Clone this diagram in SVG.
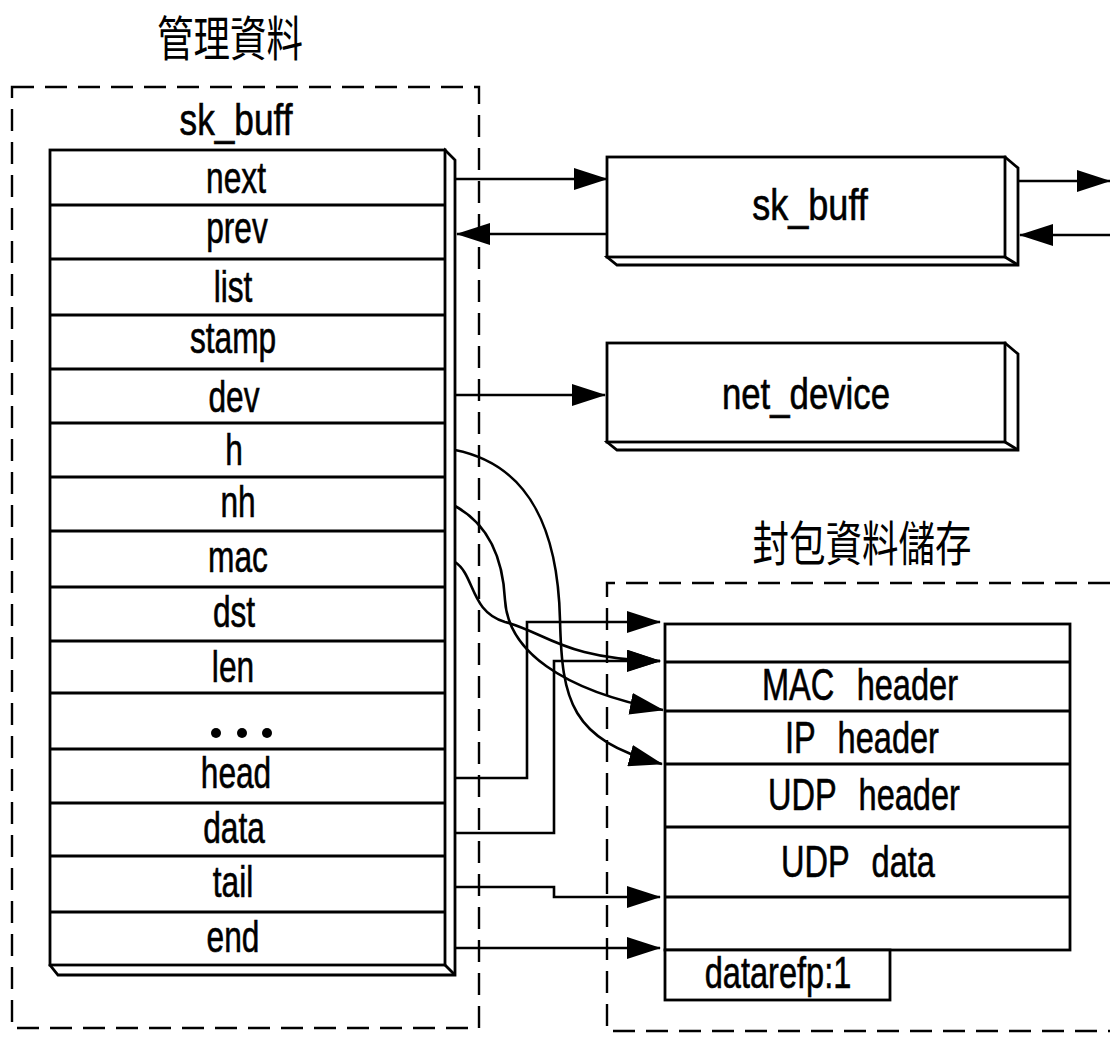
<svg xmlns="http://www.w3.org/2000/svg" width="1110" height="1043" viewBox="0 0 1110 1043">
  <style>
    .bg { fill: #ffffff; }
    .box { fill: #ffffff; stroke: #000; stroke-width: 2.8; stroke-linejoin: miter; }
    .ln { fill: none; stroke: #000; stroke-width: 2.8; }
    .dash { fill: none; stroke: #000; stroke-width: 2.4; stroke-dasharray: 22 11; }
    .wire { fill: none; stroke: #000; stroke-width: 2.6; marker-end: url(#ah); }
    .lbl { font-family: "Liberation Sans", Arial, sans-serif; font-size: 44px; text-anchor: middle; fill: #000; stroke: #000; stroke-width: 0.6; }
    .cjk { font-family: "Noto Sans CJK TC", "Noto Sans CJK SC", sans-serif; font-size: 48px; text-anchor: middle; fill: #000; }
  </style>
  <defs>
    <marker id="ah" markerUnits="userSpaceOnUse" viewBox="0 0 34 22" markerWidth="34" markerHeight="22" refX="33" refY="11" orient="auto">
      <path d="M0,0 L34,11 L0,22 z" fill="#000"/>
    </marker>
  </defs>

  <rect class="bg" x="0" y="0" width="1110" height="1043"/>

  <!-- management data group -->
  <g id="mgmt-area">
    <text class="cjk" transform="translate(230,56) scale(0.76,1)">管理資料</text>
    <rect class="dash" x="12" y="87" width="467" height="941"/>
    <text class="lbl" transform="translate(236,135) scale(0.8,1)">sk_buff</text>
  </g>

  <!-- sk_buff field table -->
  <g id="skb-table">
    <path class="box" d="M445,150 L455,160 L455,975 L58,975 L50,965 Z"/>
    <rect class="box" x="50" y="150" width="395" height="815"/>
    <path class="ln" d="M445,965 L455,975"/>
    <path class="ln" d="M50,205 H445 M50,259 H445 M50,315 H445 M50,369 H445 M50,423 H445 M50,477 H445 M50,531 H445 M50,587 H445 M50,641 H445 M50,693 H445 M50,749 H445 M50,803 H445 M50,856 H445 M50,912 H445"/>
    <g class="lbl">
      <text transform="translate(236,193) scale(0.72,1)">next</text>
      <text transform="translate(237,243) scale(0.72,1)">prev</text>
      <text transform="translate(233,302) scale(0.72,1)">list</text>
      <text transform="translate(233,353) scale(0.72,1)">stamp</text>
      <text transform="translate(234,412) scale(0.72,1)">dev</text>
      <text transform="translate(234,465) scale(0.72,1)">h</text>
      <text transform="translate(238,517) scale(0.72,1)">nh</text>
      <text transform="translate(238,572) scale(0.72,1)">mac</text>
      <text transform="translate(234,627) scale(0.72,1)">dst</text>
      <text transform="translate(233,682) scale(0.72,1)">len</text>
      <text transform="translate(236,788) scale(0.72,1)">head</text>
      <text transform="translate(234,843) scale(0.72,1)">data</text>
      <text transform="translate(233,897) scale(0.72,1)">tail</text>
      <text transform="translate(233,952) scale(0.72,1)">end</text>
    </g>
    <circle cx="216" cy="733" r="5"/>
    <circle cx="242" cy="733" r="5"/>
    <circle cx="267" cy="733" r="5"/>
  </g>

  <!-- neighbouring sk_buff -->
  <g id="skb-next">
    <path class="box" d="M1005,157 L1018,168 L1018,265 L617,265 L607,257 Z"/>
    <rect class="box" x="607" y="157" width="398" height="100"/>
    <path class="ln" d="M1005,257 L1018,265"/>
    <text class="lbl" transform="translate(810,220) scale(0.82,1)">sk_buff</text>
  </g>

  <!-- net_device -->
  <g id="net-device">
    <path class="box" d="M1005,343 L1018,354 L1018,450 L617,450 L607,442 Z"/>
    <rect class="box" x="607" y="343" width="398" height="99"/>
    <path class="ln" d="M1005,442 L1018,450"/>
    <text class="lbl" transform="translate(806,409) scale(0.79,1)">net_device</text>
  </g>

  <!-- packet data storage -->
  <g id="pkt-area">
    <text class="cjk" transform="translate(862,561) scale(0.76,1)">封包資料儲存</text>
    <path class="dash" d="M1110,583 H607 V1031 H1110"/>
  </g>

  <g id="pkt-table">
    <rect class="box" x="665" y="624" width="405" height="326"/>
    <path class="ln" d="M665,662 H1070 M665,711 H1070 M665,764 H1070 M665,827 H1070 M665,897 H1070"/>
    <g class="lbl" style="word-spacing:18px">
      <text transform="translate(860,700) scale(0.74,1)">MAC header</text>
      <text transform="translate(862,753) scale(0.74,1)">IP header</text>
      <text transform="translate(864,810) scale(0.74,1)">UDP header</text>
      <text transform="translate(858,877) scale(0.74,1)">UDP data</text>
    </g>
  </g>

  <g id="dataref">
    <rect class="box" x="665" y="950" width="225" height="50"/>
    <text class="lbl" transform="translate(778,988) scale(0.74,1)">datarefp:1</text>
  </g>

  <!-- pointers -->
  <g id="connectors">
    <path class="wire" d="M455,179 H607"/>
    <path class="wire" d="M607,234 H457"/>
    <path class="wire" d="M1018,181 H1110"/>
    <path class="wire" d="M1110,235 H1020"/>
    <path class="wire" d="M455,395 H605"/>
    <path class="wire" d="M455,450 C530,465 558,530 560,620 C562,700 570,740 662,764"/>
    <path class="wire" d="M455,506 C490,525 503,560 505,600 C508,650 560,690 663,710"/>
    <path class="wire" d="M455,562 C475,575 470,612 505,622 C545,632 565,660 660,661"/>
    <path class="wire" d="M455,778 H527 V622 H660"/>
    <path class="wire" d="M455,833 H554 V661 H660"/>
    <path class="wire" d="M455,887 H554 V897 H660"/>
    <path class="wire" d="M455,948 H660"/>
  </g>
</svg>
